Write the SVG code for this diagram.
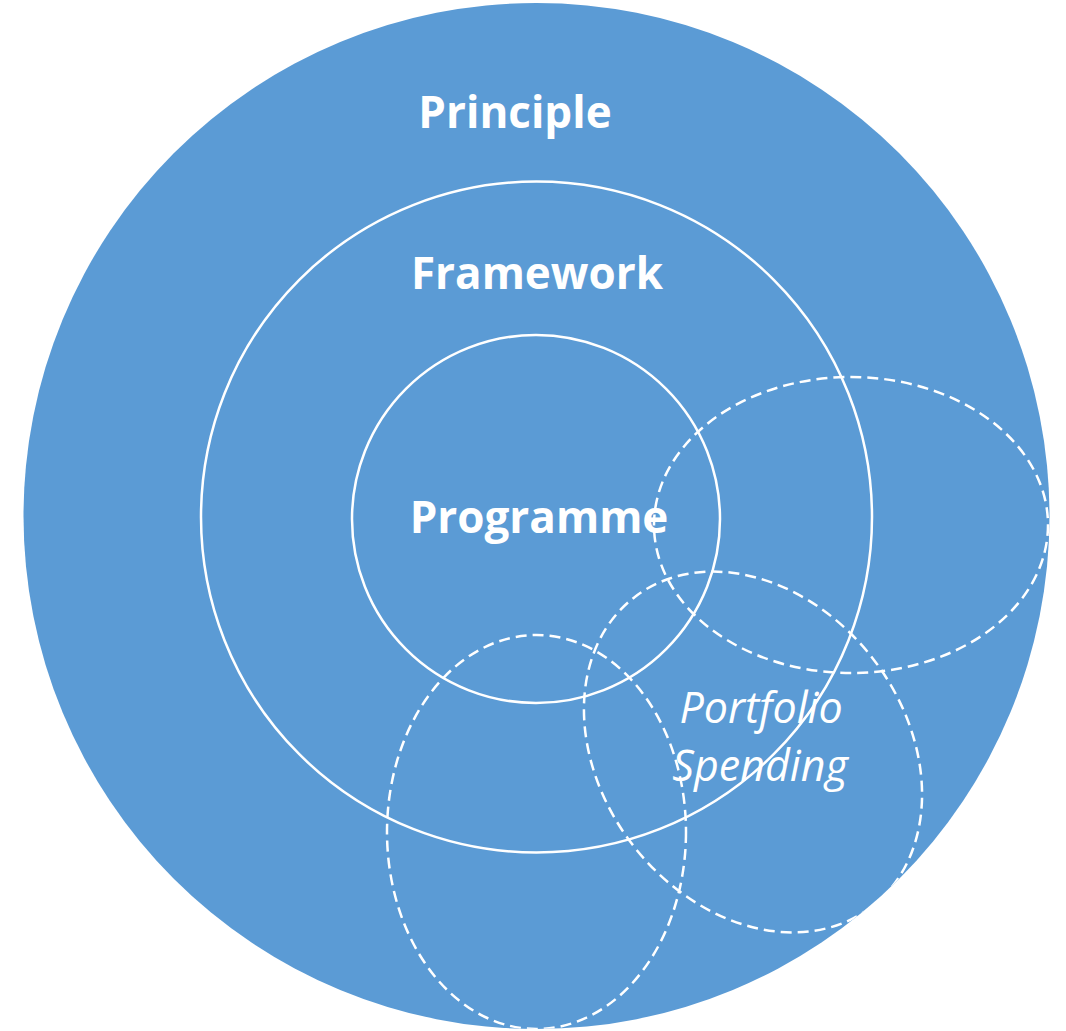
<svg xmlns="http://www.w3.org/2000/svg" width="1066" height="1031" viewBox="0 0 1066 1031">
<style>
.solid{fill:none;stroke:#fff;stroke-width:2.5}
.dash{fill:none;stroke:#fff;stroke-width:2.5;stroke-dasharray:11 6}
.t{font-family:"Open Sans","Liberation Sans",sans-serif;fill:#fff;text-anchor:middle}
.b{font-weight:bold;font-size:44px}
.i{font-style:italic;font-size:43px}
</style>
<defs>
<clipPath id="cc"><circle cx="536.5" cy="516" r="513"/></clipPath>
</defs>
<g id="principle">
<circle cx="536.5" cy="516" r="513" fill="#5B9BD5"/>
<text class="t b" x="515" y="128">Principle</text>
</g>
<g id="framework">
<circle class="solid" cx="536.5" cy="517" r="335.5"/>
<text class="t b" x="537" y="289">Framework</text>
</g>
<g id="programme">
<circle class="solid" cx="536" cy="519" r="184"/>
<text class="t b" x="539" y="533">Programme</text>
</g>
<g id="connectors" clip-path="url(#cc)">
<ellipse class="dash" cx="851" cy="525" rx="197" ry="148"/>
<ellipse class="dash" cx="753" cy="752" rx="195" ry="152" transform="rotate(52.7 753 752)"/>
<ellipse class="dash" cx="536.5" cy="832" rx="149.5" ry="197"/>
</g>
<g id="portfolio">
<text class="t i" x="761" y="723">Portfolio</text>
<text class="t i" x="760" y="781">Spending</text>
</g>
</svg>
